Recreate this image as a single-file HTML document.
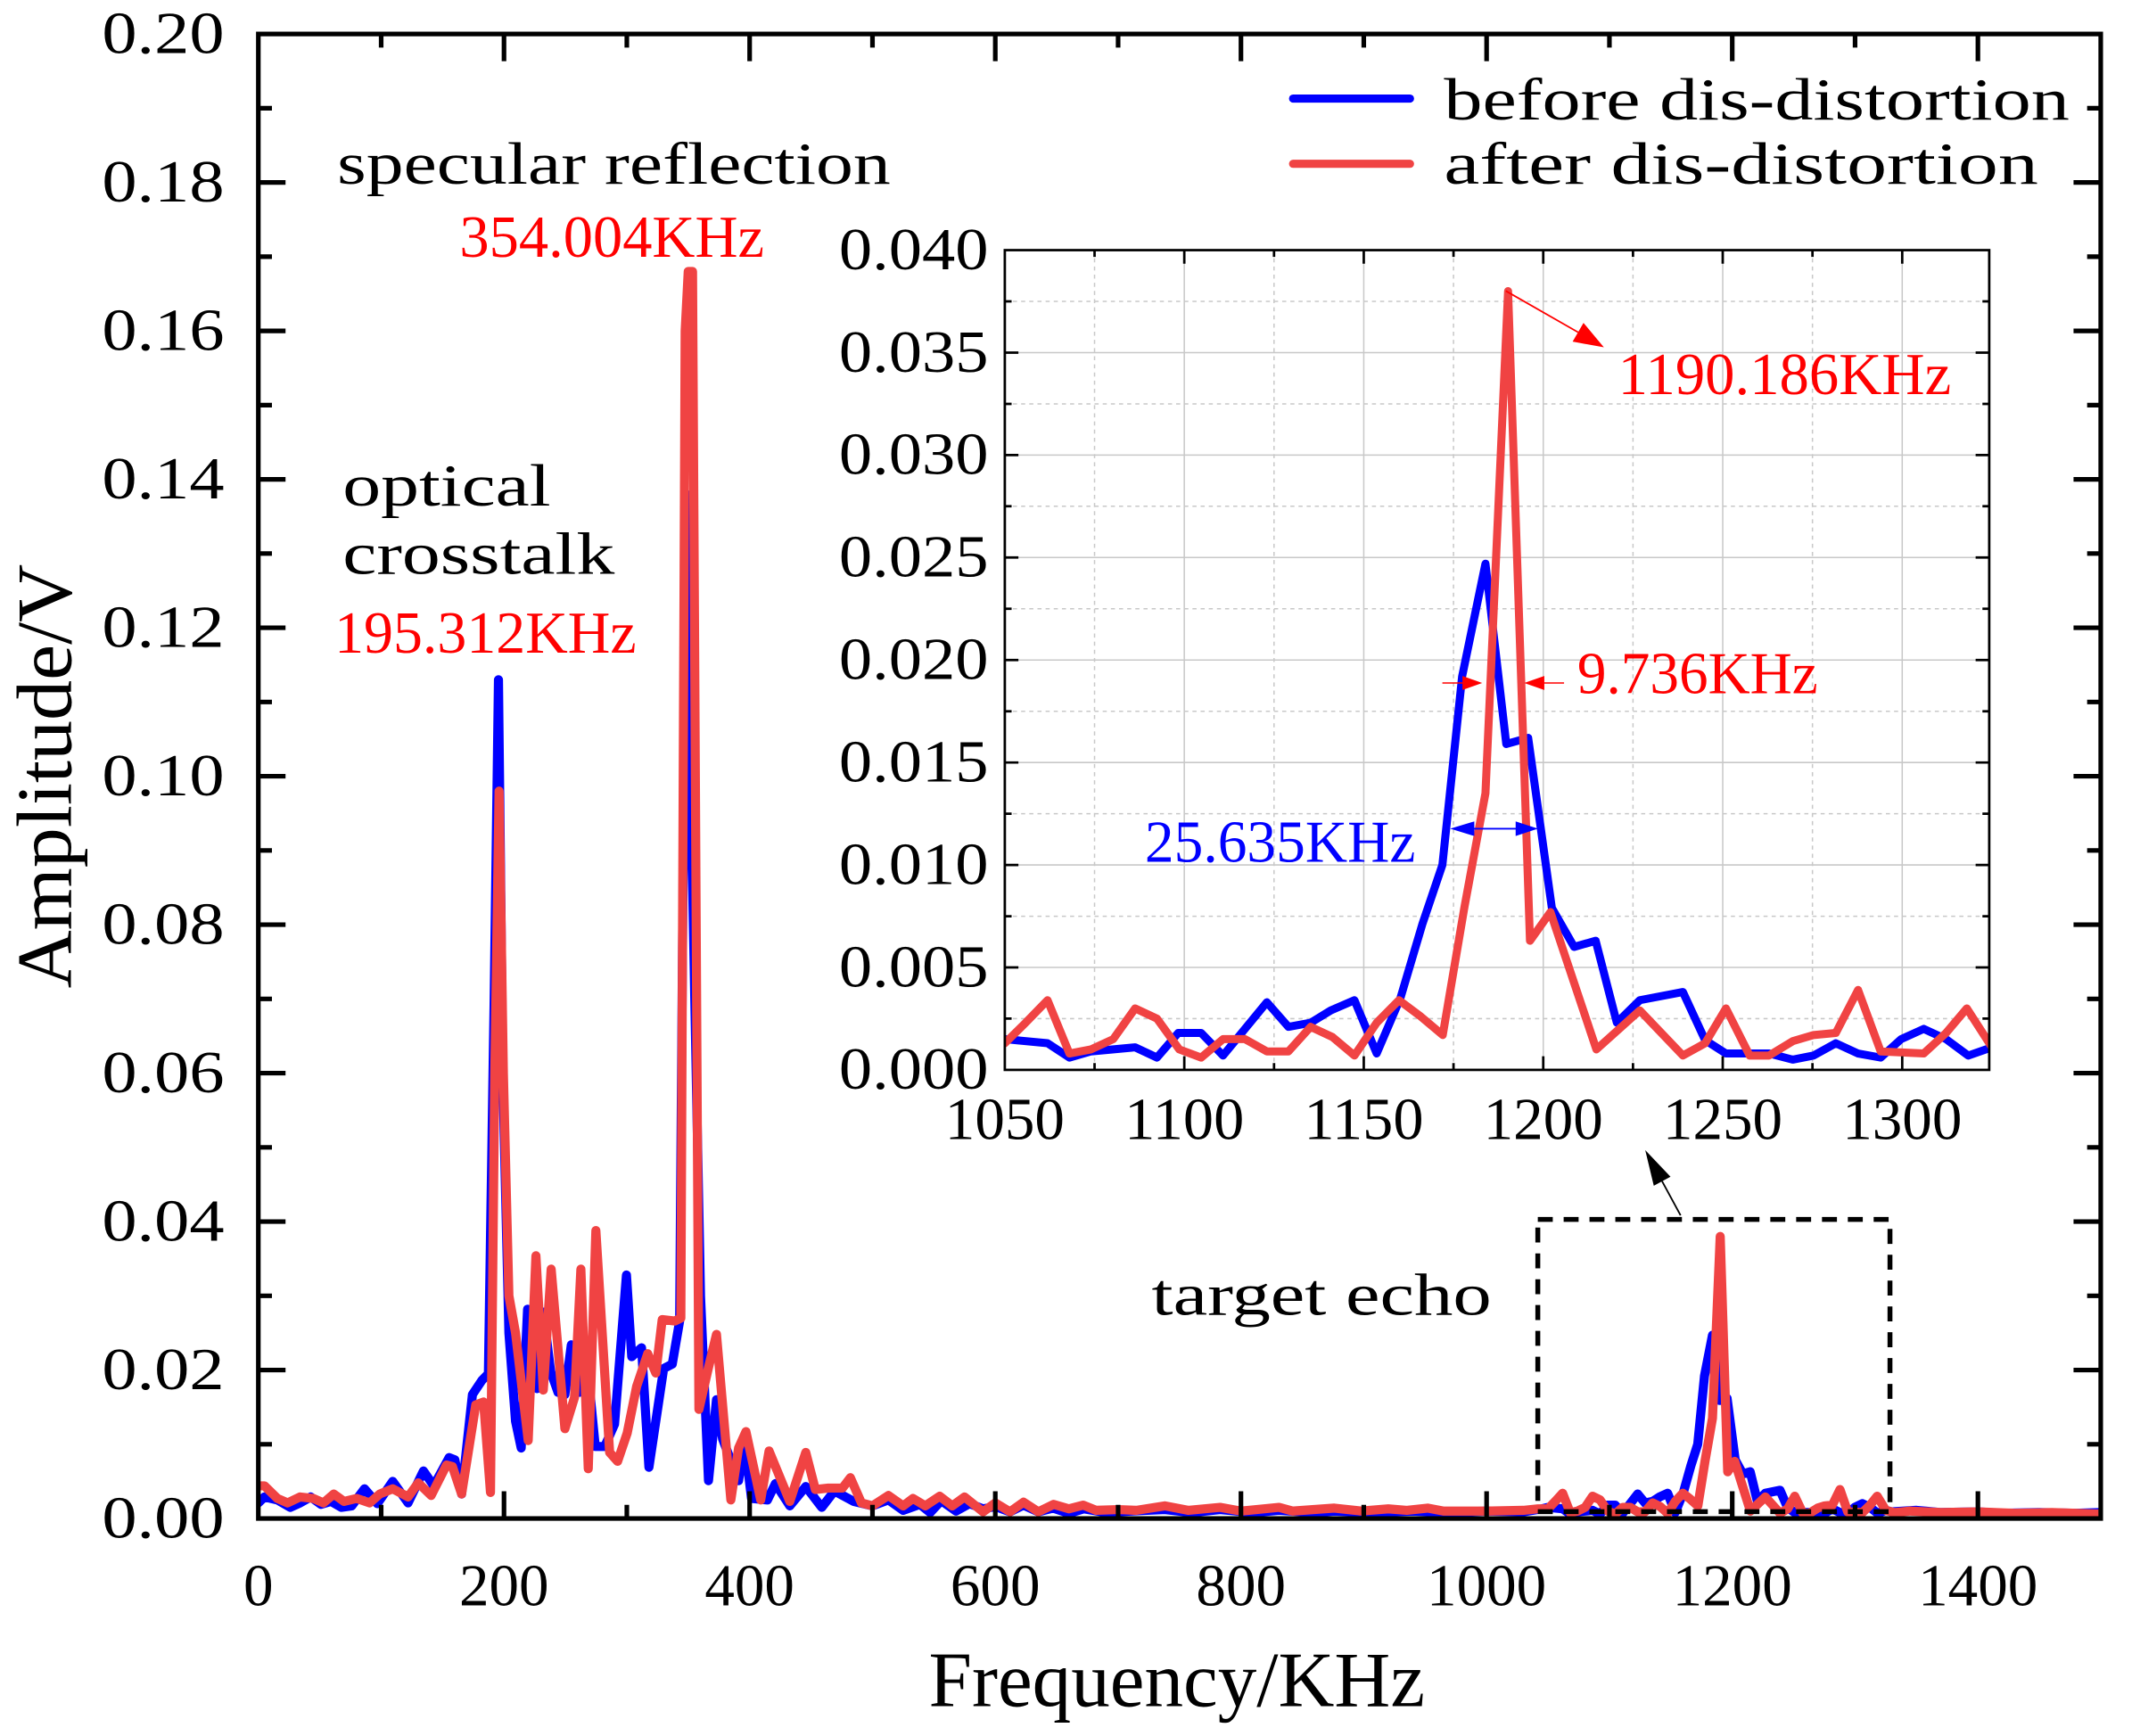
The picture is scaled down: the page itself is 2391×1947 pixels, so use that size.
<!DOCTYPE html>
<html><head><meta charset="utf-8"><style>html,body{margin:0;padding:0;background:#fff;}svg{display:block;}</style></head>
<body>
<svg xmlns="http://www.w3.org/2000/svg" width="2391" height="1947" viewBox="0 0 1568 1277" preserveAspectRatio="none" font-family="'Liberation Serif','Noto Serif CJK SC',serif">
<defs>
<clipPath id="mc"><rect x="190" y="25" width="1355" height="1092"/></clipPath>
<clipPath id="ic"><rect x="739" y="184" width="724" height="603"/></clipPath>
</defs>
<rect x="0" y="0" width="1568" height="1277" fill="#fff"/>

<!-- main curves -->
<g clip-path="url(#mc)">
<g transform="matrix(0.90333 0 0 -5.46 190 1117)" fill="none" stroke-linejoin="round" stroke-linecap="round">
<path vector-effect="non-scaling-stroke" stroke="#0000FF" stroke-width="10.2" d="M0,2.1 L5,2.9 15.5,2.5 26,1.5 34,2.1 42.6,2.9 51,1.9 59.3,2.3 67.6,1.5 76,1.7 86.4,4 96.9,2 109.4,5 121.9,2.1 134.4,6.4 142.8,4.4 155.3,8.2 160,7.9 165.5,3.3 174.3,16.7 182,18.6 187.3,19.5 192,70 195.5,113 199,60 204,25 209.4,13.1 214,9.5 219.2,28.2 227,17.5 232,27.8 238,19.8 244,17 249.6,16.7 254.8,23.4 261.3,17 267,22 274.3,9.7 282,9.7 290,12.7 299.7,32.8 304,21.8 312,23 318,6.9 330,20.2 337,20.8 343,26.6 345.5,80 348.5,138 353,90 360,30 366.5,5.1 373,16 378,10.7 391,5.1 396,10.3 401.5,2.7 414.5,2.5 421,4.7 432.7,1.7 445.7,4.3 458.7,1.5 469,3.7 484.7,2.3 500,1.7 513,2.5 525,1.1 538.7,1.9 547,0.8 556,2.4 568,1 579,2 590,1.3 600,1.6 612,0.9 623,1.8 635,0.9 647,1.4 660,0.7 672,1.3 690,0.8 710,1 738,1.2 760,0.8 783,1.2 810,0.8 831,1.1 860,0.8 876,1 905,0.8 940,1 970,0.8 1000,1 1030,0.9 1045,1.3 1050,1.5 1061.9,1.3 1068,0.6 1074,0.9 1086.3,1.1 1092.4,0.6 1098.3,1.8 1104.7,1.8 1110.8,0.7 1123,3.3 1129,2.1 1135.2,2.3 1140.8,2.9 1147.4,3.4 1153.6,0.8 1160.2,3.5 1166.3,7.1 1171.9,10 1177.4,19.2 1183.9,24.7 1189.7,15.9 1195.8,16.2 1202.4,7.9 1208.6,6 1214.6,6.3 1220.5,2.3 1226.9,3.4 1238.9,3.8 1245.1,1.45 1250.9,0.8 1262.9,0.8 1269.5,0.5 1275.3,0.7 1281.5,1.3 1287.7,0.8 1294,0.6 1299.7,1.5 1306,2 1312.2,1.5 1318.4,0.7 1325,1.1 1330,0.9 1350,1.1 1370,0.8 1400,0.9 1420,0.7 1450,0.8 1480,0.7 1500,0.8"/>
<path vector-effect="non-scaling-stroke" stroke="#F04343" stroke-width="10.2" d="M0,4.4 L5,4.4 15.5,2.7 23.8,2.1 34,2.9 44.7,2.7 53,2.1 61.4,3.3 69.7,2.3 80,2.7 90.6,2.1 98.9,3.3 109.4,4 121.9,2.9 130.2,4.8 140.7,3.1 153.2,7.2 158,7 165.5,3.3 177,15.3 183.4,15.7 189,3.5 192.5,60 196,98 199.5,60 204,30 209.4,25 219.7,10.5 226,35.4 232,17.3 238.4,33.6 249.6,12.1 257.4,16.3 262.6,33.6 268.6,6.7 274.8,38.8 286,8.9 292.5,7.7 300.3,11.5 308,17.8 317,22.2 323.6,19.6 328.8,26.8 339,26.6 344,27 347.5,160 350,168 353.5,168 358.7,14.7 366,20 373,24.8 384.7,2.5 391,9.5 397,11.7 409,2.5 415.8,9.1 432.7,2.3 445.7,8.9 453.5,3.9 464,4.1 475.6,4.1 482,5.5 491,2.1 500,1.7 513,3.1 525,1.7 533,2.7 543,1.7 554.7,3 565,1.7 575,2.9 590,0.9 600,2.1 612,0.9 623,2.2 635,0.9 647.5,1.9 660,1.3 671.6,1.8 682,1.1 700,1.2 715,1.1 738,1.7 757,1.1 783,1.5 800,1 831,1.5 842,1 876,1.4 898,1 920,1.3 935,1.1 952,1.4 965,1 1000,1 1030,1.1 1042,1.3 1050,1.3 1055.8,2.3 1061.9,3.4 1068,0.8 1074,1 1080.2,1.5 1086.3,3 1092.4,2.5 1098.6,1 1104.7,0.6 1110.8,1.5 1116.9,1.5 1123,0.9 1129,0.9 1135.2,2.1 1141.3,1.6 1147.4,0.7 1153.6,2.3 1159.8,3.4 1165.9,2.6 1172,1.7 1178,7.9 1183.9,13.5 1190.2,38 1196.3,6.3 1202,7.7 1214.8,1 1226.9,2.9 1238.9,0.7 1245.1,1.3 1250.9,3 1257.5,0.7 1262.9,0.7 1269.5,1.4 1275.3,1.7 1281.5,1.8 1287.7,3.9 1294,0.9 1306,0.8 1312.2,1.8 1318,3 1325,1.1 1332,0.8 1345,1 1370,0.8 1400,0.9 1430,0.7 1460,0.8 1500,0.6"/>
</g>
</g>

<!-- main frame and ticks -->
<g stroke="#000" stroke-width="3.4" fill="none">
<rect x="190" y="25" width="1355" height="1092"/>
<path d="M370.67,1117v-20M551.33,1117v-20M732,1117v-20M912.67,1117v-20M1093.33,1117v-20M1274,1117v-20M1454.67,1117v-20
M280.33,1117v-10M461,1117v-10M641.67,1117v-10M822.33,1117v-10M1003,1117v-10M1183.67,1117v-10M1364.33,1117v-10
M370.67,25v20M551.33,25v20M732,25v20M912.67,25v20M1093.33,25v20M1274,25v20M1454.67,25v20
M280.33,25v10M461,25v10M641.67,25v10M822.33,25v10M1003,25v10M1183.67,25v10M1364.33,25v10
M190,1007.8h20M190,898.6h20M190,789.4h20M190,680.2h20M190,571h20M190,461.8h20M190,352.6h20M190,243.4h20M190,134.2h20
M190,1062.4h10M190,953.2h10M190,844h10M190,734.8h10M190,625.6h10M190,516.4h10M190,407.2h10M190,298h10M190,188.8h10M190,79.6h10
M1545,1007.8h-20M1545,898.6h-20M1545,789.4h-20M1545,680.2h-20M1545,571h-20M1545,461.8h-20M1545,352.6h-20M1545,243.4h-20M1545,134.2h-20
M1545,1062.4h-10M1545,953.2h-10M1545,844h-10M1545,734.8h-10M1545,625.6h-10M1545,516.4h-10M1545,407.2h-10M1545,298h-10M1545,188.8h-10M1545,79.6h-10"/>
</g>

<!-- main tick labels -->
<g font-size="44" fill="#000">
<text x="75" y="1131" textLength="90" lengthAdjust="spacingAndGlyphs">0.00</text>
<text x="75" y="1021.8" textLength="90" lengthAdjust="spacingAndGlyphs">0.02</text>
<text x="75" y="912.6" textLength="90" lengthAdjust="spacingAndGlyphs">0.04</text>
<text x="75" y="803.4" textLength="90" lengthAdjust="spacingAndGlyphs">0.06</text>
<text x="75" y="694.2" textLength="90" lengthAdjust="spacingAndGlyphs">0.08</text>
<text x="75" y="585" textLength="90" lengthAdjust="spacingAndGlyphs">0.10</text>
<text x="75" y="475.8" textLength="90" lengthAdjust="spacingAndGlyphs">0.12</text>
<text x="75" y="366.6" textLength="90" lengthAdjust="spacingAndGlyphs">0.14</text>
<text x="75" y="257.4" textLength="90" lengthAdjust="spacingAndGlyphs">0.16</text>
<text x="75" y="148.2" textLength="90" lengthAdjust="spacingAndGlyphs">0.18</text>
<text x="75" y="39" textLength="90" lengthAdjust="spacingAndGlyphs">0.20</text>
<text x="179" y="1181">0</text>
<text x="337.7" y="1181" textLength="66" lengthAdjust="spacingAndGlyphs">200</text>
<text x="518.3" y="1181" textLength="66" lengthAdjust="spacingAndGlyphs">400</text>
<text x="699" y="1181" textLength="66" lengthAdjust="spacingAndGlyphs">600</text>
<text x="879.7" y="1181" textLength="66" lengthAdjust="spacingAndGlyphs">800</text>
<text x="1049.3" y="1181" textLength="88" lengthAdjust="spacingAndGlyphs">1000</text>
<text x="1230" y="1181" textLength="88" lengthAdjust="spacingAndGlyphs">1200</text>
<text x="1410.7" y="1181" textLength="88" lengthAdjust="spacingAndGlyphs">1400</text>
</g>

<!-- axis titles -->
<text x="683" y="1255" font-size="58" textLength="365" lengthAdjust="spacingAndGlyphs" fill="#000">Frequency/KHz</text>
<text transform="translate(52,727) rotate(-90)" x="0" y="0" font-size="58" textLength="312" lengthAdjust="spacingAndGlyphs" fill="#000">Amplitude/V</text>

<!-- annotations main -->
<g font-size="44">
<text x="248" y="135" textLength="407" lengthAdjust="spacingAndGlyphs" fill="#000">specular reflection</text>
<text x="338" y="189" textLength="224" lengthAdjust="spacingAndGlyphs" fill="#FF0000">354.004KHz</text>
<text x="252" y="372" textLength="153" lengthAdjust="spacingAndGlyphs" fill="#000">optical</text>
<text x="252" y="422" textLength="200" lengthAdjust="spacingAndGlyphs" fill="#000">crosstalk</text>
<text x="246" y="480" textLength="222" lengthAdjust="spacingAndGlyphs" fill="#FF0000">195.312KHz</text>
<text x="847" y="967" textLength="250" lengthAdjust="spacingAndGlyphs" fill="#000">target echo</text>
<text x="1062" y="88" textLength="460" lengthAdjust="spacingAndGlyphs" fill="#000">before dis-distortion</text>
<text x="1062" y="135" textLength="437" lengthAdjust="spacingAndGlyphs" fill="#000">after dis-distortion</text>
</g>
<line x1="951" y1="72.5" x2="1037" y2="72.5" stroke="#0000FF" stroke-width="6" stroke-linecap="round"/>
<line x1="951" y1="120.5" x2="1037" y2="120.5" stroke="#F04343" stroke-width="6" stroke-linecap="round"/>

<!-- dashed rect and arrow -->
<rect x="1131" y="897" width="259" height="215" fill="none" stroke="#000" stroke-width="3.6" stroke-dasharray="11 8"/>
<line x1="1236" y1="894" x2="1222.4" y2="868.9" stroke="#000" stroke-width="1.2"/>
<polygon points="1210,846 1228.6,865.6 1216.3,872.2" fill="#000"/>

<!-- inset -->
<rect x="739" y="184" width="724" height="603" fill="#fff"/>
<g stroke="#c8c8c8" stroke-width="1" fill="none">
<path d="M871,184V787M1003,184V787M1135,184V787M1267,184V787M1399,184V787
M739,711.6H1463M739,636.25H1463M739,560.9H1463M739,485.5H1463M739,410.1H1463M739,334.75H1463M739,259.4H1463"/>
<path stroke-dasharray="3 3" d="M805,184V787M937,184V787M1069,184V787M1201,184V787M1333,184V787
M739,749.3H1463M739,674H1463M739,598.6H1463M739,523.2H1463M739,447.8H1463M739,372.4H1463M739,297.1H1463M739,221.7H1463"/>
</g>
<g clip-path="url(#ic)">
<g transform="matrix(2.64 0 0 -15.075 -2033 787)" fill="none" stroke-linejoin="round" stroke-linecap="round">
<path vector-effect="non-scaling-stroke" stroke="#0000FF" stroke-width="9" d="M1050,1.5 L1061.9,1.3 1068,0.6 1074,0.9 1086.3,1.1 1092.4,0.6 1098.3,1.8 1104.7,1.8 1110.8,0.7 1123,3.3 1129,2.1 1135.2,2.3 1140.8,2.9 1147.4,3.4 1153.6,0.8 1160.2,3.5 1166.3,7.1 1171.9,10 1177.4,19.2 1183.9,24.7 1189.7,15.9 1195.8,16.2 1202.4,7.9 1208.6,6 1214.6,6.3 1220.5,2.3 1226.9,3.4 1238.9,3.8 1245.1,1.45 1250.9,0.8 1262.9,0.8 1269.5,0.5 1275.3,0.7 1281.5,1.3 1287.7,0.8 1294,0.6 1299.7,1.5 1306,2 1312.2,1.5 1318.4,0.7 1325,1.1"/>
<path vector-effect="non-scaling-stroke" stroke="#F04343" stroke-width="9" d="M1050,1.3 L1055.8,2.3 1061.9,3.4 1068,0.8 1074,1 1080.2,1.5 1086.3,3 1092.4,2.5 1098.6,1 1104.7,0.6 1110.8,1.5 1116.9,1.5 1123,0.9 1129,0.9 1135.2,2.1 1141.3,1.6 1147.4,0.7 1153.6,2.3 1159.8,3.4 1165.9,2.6 1172,1.7 1178,7.9 1183.9,13.5 1190.2,38 1196.3,6.3 1202,7.7 1214.8,1 1226.9,2.9 1238.9,0.7 1245.1,1.3 1250.9,3 1257.5,0.7 1262.9,0.7 1269.5,1.4 1275.3,1.7 1281.5,1.8 1287.7,3.9 1294,0.9 1306,0.8 1312.2,1.8 1318,3 1325,1.1"/>
</g>
</g>
<g stroke="#000" stroke-width="1.8" fill="none">
<rect x="739" y="184" width="724" height="603"/>
<path d="M871,787v-10M1003,787v-10M1135,787v-10M1267,787v-10M1399,787v-10
M805,787v-5M937,787v-5M1069,787v-5M1201,787v-5M1333,787v-5
M871,184v10M1003,184v10M1135,184v10M1267,184v10M1399,184v10
M805,184v5M937,184v5M1069,184v5M1201,184v5M1333,184v5
M739,711.6h10M739,636.25h10M739,560.9h10M739,485.5h10M739,410.1h10M739,334.75h10M739,259.4h10
M739,749.3h5M739,674h5M739,598.6h5M739,523.2h5M739,447.8h5M739,372.4h5M739,297.1h5M739,221.7h5
M1463,711.6h-10M1463,636.25h-10M1463,560.9h-10M1463,485.5h-10M1463,410.1h-10M1463,334.75h-10M1463,259.4h-10
M1463,749.3h-5M1463,674h-5M1463,598.6h-5M1463,523.2h-5M1463,447.8h-5M1463,372.4h-5M1463,297.1h-5M1463,221.7h-5"/>
</g>
<g font-size="44" fill="#000">
<text x="617" y="801" textLength="110" lengthAdjust="spacingAndGlyphs">0.000</text>
<text x="617" y="725.6" textLength="110" lengthAdjust="spacingAndGlyphs">0.005</text>
<text x="617" y="650.25" textLength="110" lengthAdjust="spacingAndGlyphs">0.010</text>
<text x="617" y="574.9" textLength="110" lengthAdjust="spacingAndGlyphs">0.015</text>
<text x="617" y="499.5" textLength="110" lengthAdjust="spacingAndGlyphs">0.020</text>
<text x="617" y="424.1" textLength="110" lengthAdjust="spacingAndGlyphs">0.025</text>
<text x="617" y="348.75" textLength="110" lengthAdjust="spacingAndGlyphs">0.030</text>
<text x="617" y="273.4" textLength="110" lengthAdjust="spacingAndGlyphs">0.035</text>
<text x="617" y="198" textLength="110" lengthAdjust="spacingAndGlyphs">0.040</text>
<text x="695" y="838" textLength="88" lengthAdjust="spacingAndGlyphs">1050</text>
<text x="827" y="838" textLength="88" lengthAdjust="spacingAndGlyphs">1100</text>
<text x="959" y="838" textLength="88" lengthAdjust="spacingAndGlyphs">1150</text>
<text x="1091" y="838" textLength="88" lengthAdjust="spacingAndGlyphs">1200</text>
<text x="1223" y="838" textLength="88" lengthAdjust="spacingAndGlyphs">1250</text>
<text x="1355" y="838" textLength="88" lengthAdjust="spacingAndGlyphs">1300</text>
</g>

<!-- inset annotations -->
<line x1="1107.5" y1="214" x2="1160.6" y2="244.4" stroke="#FF0000" stroke-width="1.2"/>
<polygon points="1179.6,255.5 1156.6,251.3 1164.6,237.5" fill="#FF0000"/>
<g font-size="44">
<text x="1190" y="290" textLength="245" lengthAdjust="spacingAndGlyphs" fill="#FF0000">1190.186KHz</text>
<text x="1160" y="510" textLength="177" lengthAdjust="spacingAndGlyphs" fill="#FF0000">9.736KHz</text>
<text x="842" y="634" textLength="199" lengthAdjust="spacingAndGlyphs" fill="#0000FF">25.635KHz</text>
</g>
<line x1="1060.8" y1="502.4" x2="1076" y2="502.4" stroke="#FF0000" stroke-width="1"/>
<polygon points="1090.1,502.4 1075.6,497.2 1075.6,507.6" fill="#FF0000"/>
<line x1="1135" y1="502.4" x2="1150.3" y2="502.4" stroke="#FF0000" stroke-width="1"/>
<polygon points="1121,502.4 1135.8,497.2 1135.8,507.6" fill="#FF0000"/>
<line x1="1084" y1="609.6" x2="1115" y2="609.6" stroke="#0000FF" stroke-width="1.2"/>
<polygon points="1066.6,609.6 1084.3,604.2 1084.3,615" fill="#0000FF"/>
<polygon points="1131.1,609.6 1114.7,604.2 1114.7,615" fill="#0000FF"/>
</svg>
</body></html>
